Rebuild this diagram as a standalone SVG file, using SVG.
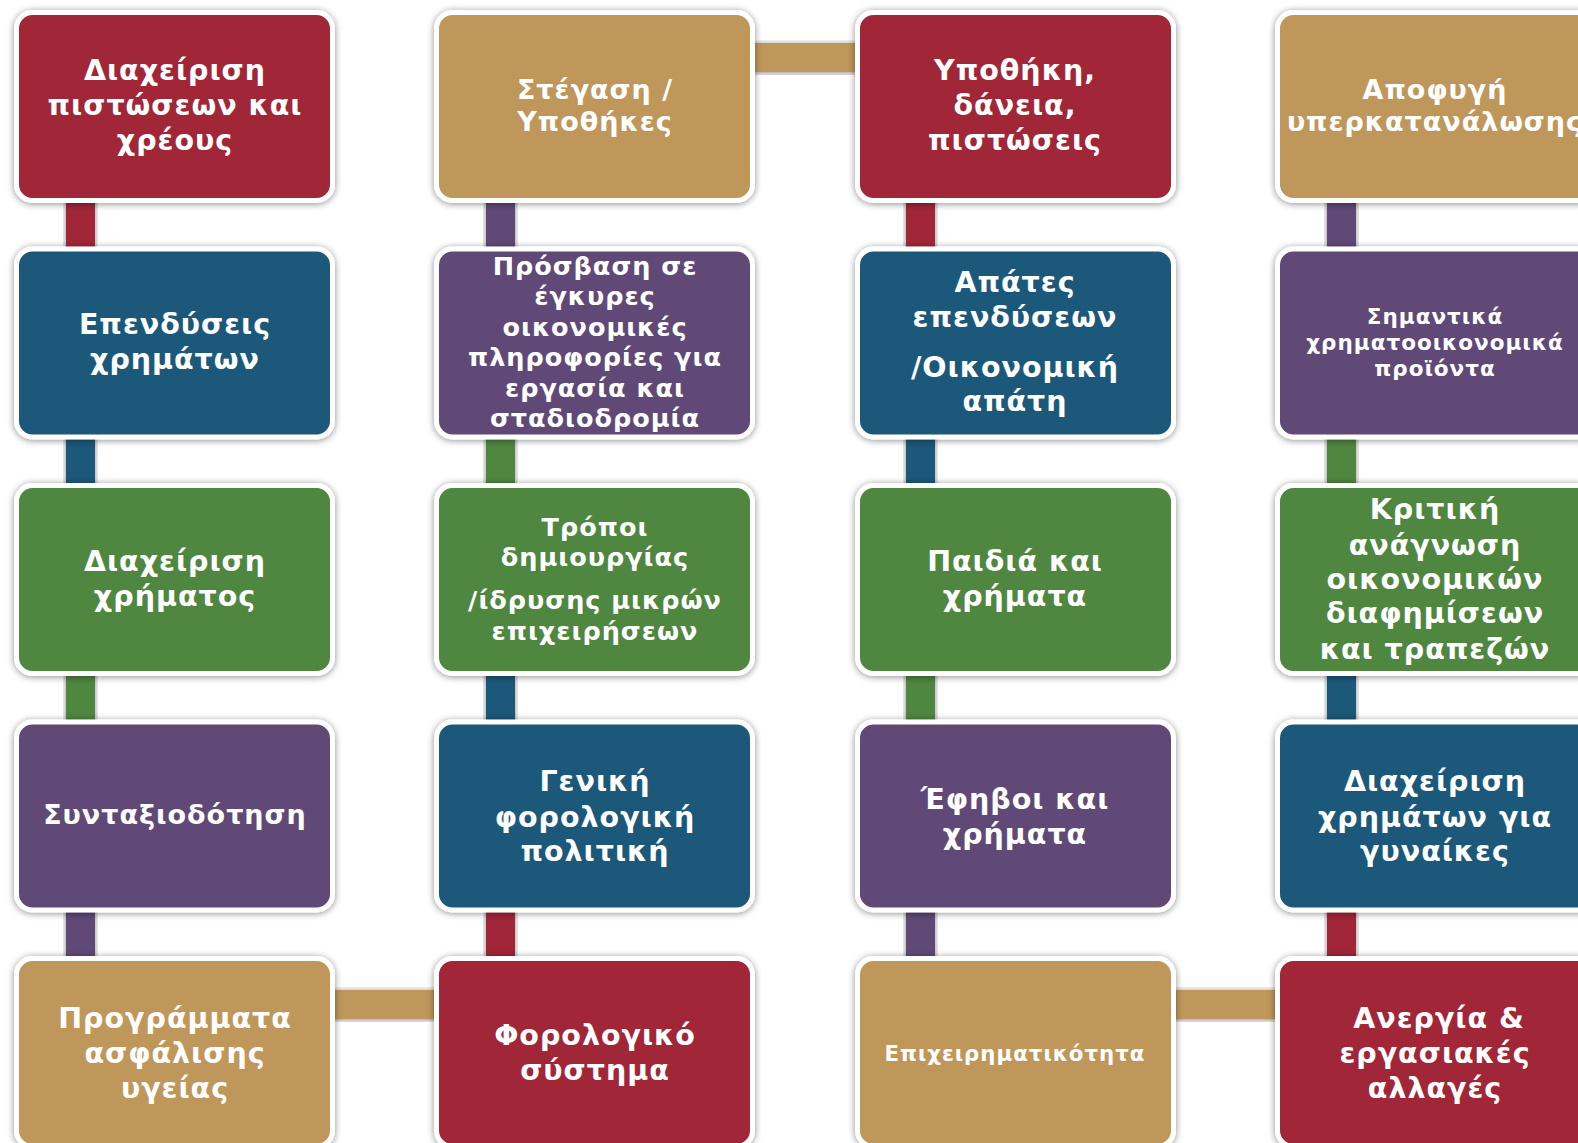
<svg xmlns="http://www.w3.org/2000/svg" width="1578" height="1143" viewBox="0 0 1578 1143">
<defs>
<filter id="sh" x="-10%" y="-10%" width="120%" height="120%">
<feDropShadow dx="0" dy="1" stdDeviation="3.5" flood-color="#000" flood-opacity="0.45"/>
</filter>
<style>
.n{stroke:#fff;stroke-width:5;filter:url(#sh)}
.red{fill:#A02838}.tan{fill:#C0975A}.blue{fill:#1E587A}.green{fill:#4F8641}.purple{fill:#604877}
.c{filter:url(#sh)}
.t{fill:#fff;font-family:"DejaVu Sans","Liberation Sans",sans-serif;font-weight:bold;text-anchor:middle;letter-spacing:1px}
</style>
</defs>
<rect width="1578" height="1143" fill="#fff"/>
<g id="connectors">
<rect class="c red" x="66" y="195" width="29" height="60"/>
<rect class="c blue" x="66" y="431" width="29" height="60"/>
<rect class="c green" x="66" y="668" width="29" height="60"/>
<rect class="c purple" x="66" y="904" width="29" height="60"/>
<rect class="c tan" x="328" y="990" width="115" height="29"/>
<rect class="c red" x="486" y="904" width="29" height="60"/>
<rect class="c blue" x="486" y="668" width="29" height="60"/>
<rect class="c green" x="486" y="431" width="29" height="60"/>
<rect class="c purple" x="486" y="195" width="29" height="60"/>
<rect class="c tan" x="748" y="43" width="115" height="29"/>
<rect class="c red" x="906" y="195" width="29" height="60"/>
<rect class="c blue" x="906" y="431" width="29" height="60"/>
<rect class="c green" x="906" y="668" width="29" height="60"/>
<rect class="c purple" x="906" y="904" width="29" height="60"/>
<rect class="c tan" x="1168" y="990" width="115" height="29"/>
<rect class="c red" x="1327" y="904" width="29" height="60"/>
<rect class="c blue" x="1327" y="668" width="29" height="60"/>
<rect class="c green" x="1327" y="431" width="29" height="60"/>
<rect class="c purple" x="1327" y="195" width="29" height="60"/>
</g>
<g id="n1"><rect class="n red" x="16.5" y="12.5" width="316" height="188" rx="16"/>
<text class="t" font-size="28.5"><tspan x="175" y="79.8">Διαχείριση</tspan><tspan x="175" y="115.1">πιστώσεων και</tspan><tspan x="175" y="150.3">χρέους</tspan></text></g>
<g id="n2"><rect class="n blue" x="16.5" y="249" width="316" height="188" rx="16"/>
<text class="t" font-size="28.5"><tspan x="175" y="333.5">Επενδύσεις</tspan><tspan x="175" y="368.7">χρημάτων</tspan></text></g>
<g id="n3"><rect class="n green" x="16.5" y="485.5" width="316" height="188" rx="16"/>
<text class="t" font-size="28.5"><tspan x="175" y="571">Διαχείριση</tspan><tspan x="175" y="606.2">χρήματος</tspan></text></g>
<g id="n4"><rect class="n purple" x="16.5" y="722" width="316" height="188" rx="16"/>
<text class="t" font-size="27"><tspan x="175" y="824.1">Συνταξιοδότηση</tspan></text></g>
<g id="n5"><rect class="n tan" x="16.5" y="958.5" width="316" height="188" rx="16"/>
<text class="t" font-size="28.5"><tspan x="175" y="1027.9">Προγράμματα</tspan><tspan x="175" y="1063.1">ασφάλισης</tspan><tspan x="175" y="1098.4">υγείας</tspan></text></g>

<g id="n6"><rect class="n red" x="436.5" y="958.5" width="316" height="188" rx="16"/>
<text class="t" font-size="28.5"><tspan x="595" y="1045">Φορολογικό</tspan><tspan x="595" y="1080.2">σύστημα</tspan></text></g>
<g id="n7"><rect class="n blue" x="436.5" y="722" width="316" height="188" rx="16"/>
<text class="t" font-size="28.5"><tspan x="595" y="791.4">Γενική</tspan><tspan x="595" y="826.6">φορολογική</tspan><tspan x="595" y="860.8">πολιτική</tspan></text></g>
<g id="n8"><rect class="n green" x="436.5" y="485.5" width="316" height="188" rx="16"/>
<text class="t" font-size="25.5"><tspan x="595" y="535.8">Τρόποι</tspan><tspan x="595" y="565.9">δημιουργίας</tspan><tspan x="595" y="609.2">/ίδρυσης μικρών</tspan><tspan x="595" y="640.4">επιχειρήσεων</tspan></text></g>
<g id="n9"><rect class="n purple" x="436.5" y="249" width="316" height="188" rx="16"/>
<text class="t" font-size="25.5"><tspan x="595" y="275.1">Πρόσβαση σε</tspan><tspan x="595" y="305.3">έγκυρες</tspan><tspan x="595" y="335.5">οικονομικές</tspan><tspan x="595" y="365.7">πληροφορίες για</tspan><tspan x="595" y="396.9">εργασία και</tspan><tspan x="595" y="427.1">σταδιοδρομία</tspan></text></g>
<g id="n10"><rect class="n tan" x="436.5" y="12.5" width="316" height="188" rx="16"/>
<text class="t" font-size="27"><tspan x="595" y="98.5">Στέγαση /</tspan><tspan x="595" y="130.7">Υποθήκες</tspan></text></g>

<g id="n11"><rect class="n red" x="857.5" y="12.5" width="316" height="188" rx="16"/>
<text class="t" font-size="28.5"><tspan x="1015" y="79.8">Υποθήκη,</tspan><tspan x="1015" y="115.1">δάνεια,</tspan><tspan x="1015" y="150.3">πιστώσεις</tspan></text></g>
<g id="n12"><rect class="n blue" x="857.5" y="249" width="316" height="188" rx="16"/>
<text class="t" font-size="28.5"><tspan x="1015" y="292.2">Απάτες</tspan><tspan x="1015" y="327.4">επενδύσεων</tspan><tspan x="1015" y="376.7">/Οικονομική</tspan><tspan x="1015" y="411">απάτη</tspan></text></g>
<g id="n13"><rect class="n green" x="857.5" y="485.5" width="316" height="188" rx="16"/>
<text class="t" font-size="28.5"><tspan x="1015" y="571">Παιδιά και</tspan><tspan x="1015" y="606.2">χρήματα</tspan></text></g>
<g id="n14"><rect class="n purple" x="857.5" y="722" width="316" height="188" rx="16"/>
<text class="t" font-size="28.5"><tspan x="1015" y="808.5">Έφηβοι και</tspan><tspan x="1015" y="843.7">χρήματα</tspan></text></g>
<g id="n15"><rect class="n tan" x="857.5" y="958.5" width="316" height="188" rx="16"/>
<text class="t" font-size="21.3"><tspan x="1015" y="1060.7">Επιχειρηματικότητα</tspan></text></g>

<g id="n16"><rect class="n red" x="1277.5" y="958.5" width="316" height="188" rx="16"/>
<text class="t" font-size="28.5"><tspan x="1439" y="1027.9">Ανεργία &amp;</tspan><tspan x="1435" y="1063.1">εργασιακές</tspan><tspan x="1435" y="1098.4">αλλαγές</tspan></text></g>
<g id="n17"><rect class="n blue" x="1277.5" y="722" width="316" height="188" rx="16"/>
<text class="t" font-size="28.5"><tspan x="1435" y="791.4">Διαχείριση</tspan><tspan x="1435" y="826.6">χρημάτων για</tspan><tspan x="1435" y="860.8">γυναίκες</tspan></text></g>
<g id="n18"><rect class="n green" x="1277.5" y="485.5" width="316" height="188" rx="16"/>
<text class="t" font-size="28.5"><tspan x="1435" y="518.6">Κριτική</tspan><tspan x="1435" y="554.9">ανάγνωση</tspan><tspan x="1435" y="589.1">οικονομικών</tspan><tspan x="1435" y="623.3">διαφημίσεων</tspan><tspan x="1435" y="658.5">και τραπεζών</tspan></text></g>
<g id="n19"><rect class="n purple" x="1277.5" y="249" width="316" height="188" rx="16"/>
<text class="t" font-size="21.5"><tspan x="1435" y="324.1">Σημαντικά</tspan><tspan x="1435" y="350.3">χρηματοοικονομικά</tspan><tspan x="1435" y="376.4">προϊόντα</tspan></text></g>
<g id="n20"><rect class="n tan" x="1277.5" y="12.5" width="316" height="188" rx="16"/>
<text class="t" font-size="27"><tspan x="1435" y="98.5">Αποφυγή</tspan><tspan x="1435" y="130.7">υπερκατανάλωσης</tspan></text></g>
</svg>
